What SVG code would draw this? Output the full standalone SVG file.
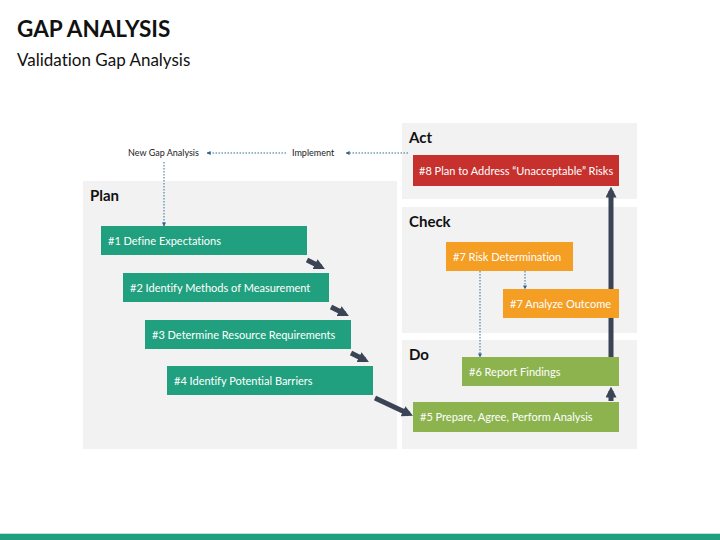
<svg xmlns="http://www.w3.org/2000/svg" width="720" height="540" viewBox="0 0 720 540">
<defs>
<marker id="dh" viewBox="0 0 10 10" refX="9" refY="5" markerWidth="4" markerHeight="4" orient="auto"><path d="M0,0 L10,5 L0,10 z" fill="#2f5f8a"/></marker>
<marker id="th" viewBox="0 0 10 10" refX="6" refY="5" markerWidth="2.2" markerHeight="2.2" orient="auto"><path d="M0,0 L10,5 L0,10 z" fill="#3b4455"/></marker>
<style>
text{font-variant-ligatures:none;font-family:Lato,"Liberation Sans",sans-serif}
.panel{fill:#f2f2f2}
.plabel{font-weight:bold;font-size:15px;fill:#111}
.btxt{font-size:11px;fill:#fff}
.small{font-size:9px;fill:#222}
.teal{fill:#21a07f}
.green{fill:#8db34f}
.orange{fill:#f49e24}
.red{fill:#c6312e}
.dot{stroke:#2f6f9a;stroke-width:1;stroke-dasharray:1.5 1.5;fill:none}
.thick{stroke:#3b4455;stroke-width:5;fill:none}
</style>
</defs>
<rect width="720" height="540" fill="#fff"/>
<text x="17" y="37" font-weight="bold" font-size="22.5" fill="#111">GAP ANALYSIS</text>
<text x="17" y="66" font-size="17" fill="#111">Validation Gap Analysis</text>

<g id="panels">
<rect class="panel" x="83" y="181" width="314" height="268"/>
<rect class="panel" x="402" y="123" width="235" height="76"/>
<rect class="panel" x="402" y="207" width="235" height="126"/>
<rect class="panel" x="402" y="340" width="235" height="109"/>
<text class="plabel" x="90" y="201">Plan</text>
<text class="plabel" x="409" y="143">Act</text>
<text class="plabel" x="409" y="227">Check</text>
<text class="plabel" x="409" y="360">Do</text>
</g>

<g id="connectors">
<line class="dot" x1="408" y1="153" x2="346" y2="153" marker-end="url(#dh)"/>
<line class="dot" x1="286" y1="153" x2="207" y2="153" marker-end="url(#dh)"/>
<line class="dot" x1="164" y1="162" x2="164" y2="226" marker-end="url(#dh)"/>
<line class="dot" x1="525" y1="271" x2="525" y2="289" marker-end="url(#dh)"/>
<line class="dot" x1="480" y1="271" x2="480" y2="357" marker-end="url(#dh)"/>
<line class="thick" x1="307" y1="260" x2="321" y2="267" marker-end="url(#th)"/>
<line class="thick" x1="331" y1="307" x2="345" y2="314" marker-end="url(#th)"/>
<line class="thick" x1="351" y1="353" x2="365" y2="360" marker-end="url(#th)"/>
<line class="thick" x1="375" y1="398" x2="409" y2="414" marker-end="url(#th)"/>
<line class="thick" x1="611" y1="401" x2="611" y2="391" marker-end="url(#th)"/>
<line class="thick" x1="611" y1="357" x2="611" y2="191" marker-end="url(#th)"/>
</g>

<g id="labels">
<text class="small" x="128" y="156">New Gap Analysis</text>
<text class="small" x="292" y="156">Implement</text>
</g>

<g id="n1"><rect class="teal" x="101" y="226" width="206" height="29"/><text class="btxt" x="108" y="244.5">#1 Define Expectations</text></g>
<g id="n2"><rect class="teal" x="123" y="273" width="206" height="29"/><text class="btxt" x="130" y="291.5">#2 Identify Methods of Measurement</text></g>
<g id="n3"><rect class="teal" x="145" y="320" width="206" height="29"/><text class="btxt" x="152" y="338.5">#3 Determine Resource Requirements</text></g>
<g id="n4"><rect class="teal" x="167" y="366" width="206" height="29"/><text class="btxt" x="174" y="384.5">#4 Identify Potential Barriers</text></g>
<g id="n5"><rect class="green" x="413" y="402" width="206" height="30"/><text class="btxt" x="420" y="421">#5 Prepare, Agree, Perform Analysis</text></g>
<g id="n6"><rect class="green" x="462" y="357" width="157" height="29"/><text class="btxt" x="469" y="375.5">#6 Report Findings</text></g>
<g id="n7a"><rect class="orange" x="446" y="242" width="127" height="29"/><text class="btxt" x="453" y="260.5">#7 Risk Determination</text></g>
<g id="n7b"><rect class="orange" x="503" y="289" width="116" height="29"/><text class="btxt" x="510" y="307.5">#7 Analyze Outcome</text></g>
<g id="n8"><rect class="red" x="413" y="155" width="206" height="31"/><text class="btxt" x="419" y="174.5">#8 Plan to Address “Unacceptable” Risks</text></g>

<rect x="0" y="533" width="720" height="1" fill="#bfe3d8"/>
<rect x="0" y="534" width="720" height="6" fill="#21a07f"/>
</svg>
